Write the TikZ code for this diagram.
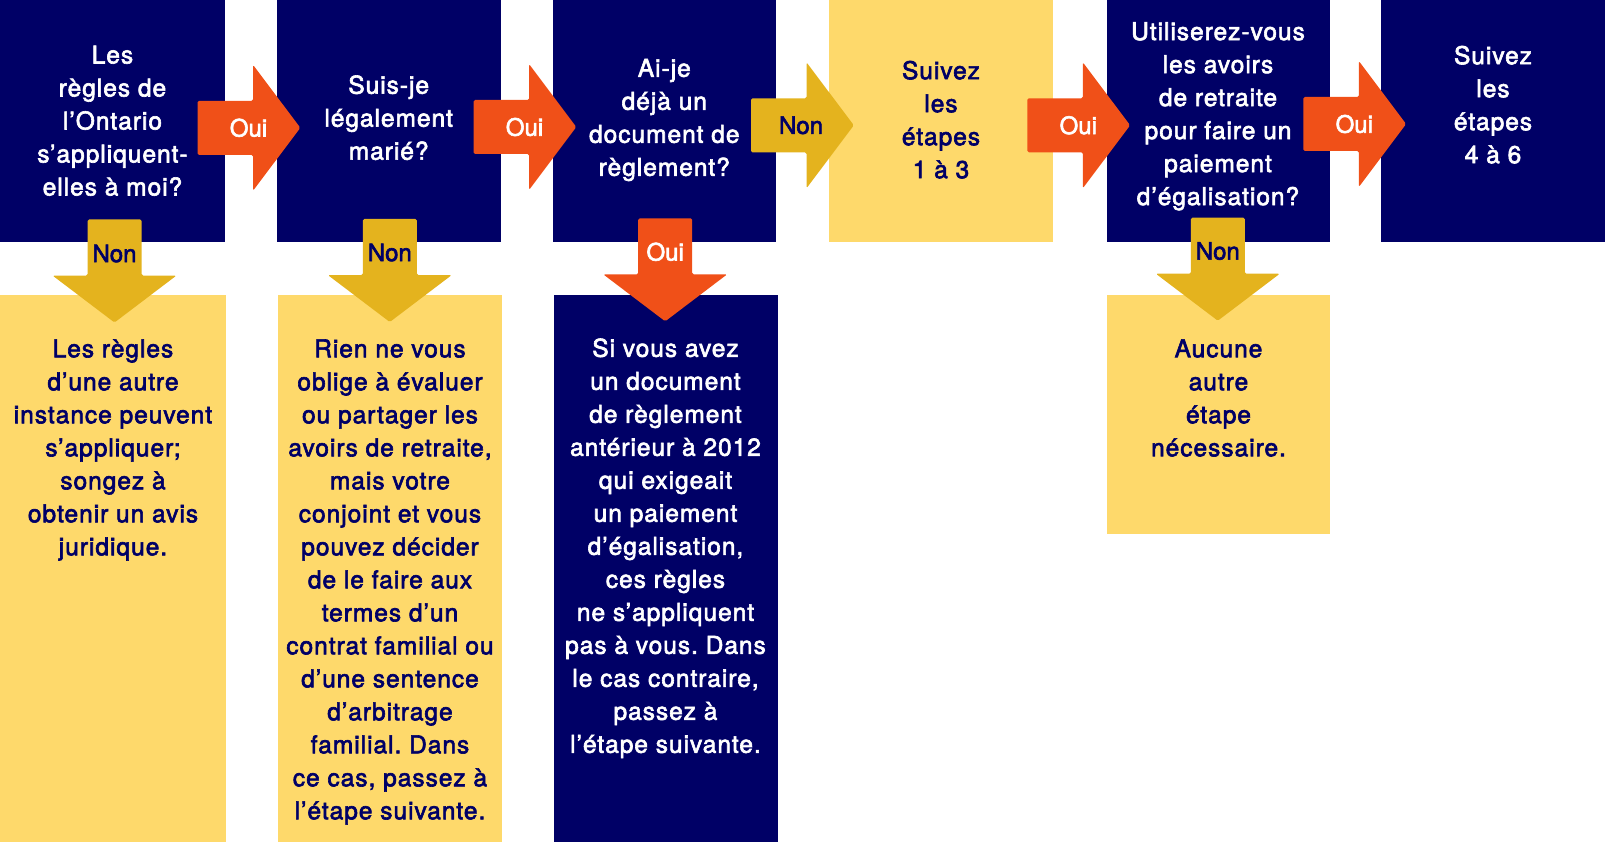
\documentclass[tikz,border=0pt]{standalone}
\usepackage{fontspec}
\setmainfont{TeX Gyre Heros}[LetterSpace=4,FakeBold=2.5]
\newfontfamily\lblfont{TeX Gyre Heros}[FakeBold=2.5]
\frenchspacing
\definecolor{navy}{HTML}{000066}
\definecolor{lightyel}{HTML}{FED96B}
\definecolor{gold}{HTML}{E4B31E}
\definecolor{orng}{HTML}{F05018}
\tikzset{
  box/.style={rectangle, inner sep=0pt, outer sep=0pt, anchor=north west, draw=none},
  txt/.style={align=center, inner sep=0pt, font=\fontsize{24.5}{33}\selectfont},
  lbl/.style={inner sep=0pt, font=\lblfont\fontsize{24}{28}\selectfont},
  harrow/.pic={\path[pic actions, rounded corners=1.5pt] (0,-27) -- (55.5,-27) -- (55.5,-63) -- (102.8,0) -- (55.5,63) -- (55.5,27) -- (0,27) -- cycle;},
  darrow/.pic={\path[pic actions, rounded corners=1.5pt] (-27,0) -- (27,0) -- (27,56) -- (62,56) -- (0,103) -- (-62,56) -- (-27,56) -- cycle;}
}
\begin{document}
\begin{tikzpicture}[x=1pt,y=-1pt]
\useasboundingbox (0,0) rectangle (1605,842);
% top row boxes
\node[box, fill=navy, minimum width=225pt, minimum height=242.5pt] (q1) at (0,0) {};
\node[box, fill=navy, minimum width=223.5pt, minimum height=242.5pt] (q2) at (277,0) {};
\node[box, fill=navy, minimum width=223.5pt, minimum height=242.5pt] (q3) at (552.5,0) {};
\node[box, fill=lightyel, minimum width=223.2pt, minimum height=242.5pt] (q4) at (829.3,0) {};
\node[box, fill=navy, minimum width=222.8pt, minimum height=242.5pt] (q5) at (1106.7,0) {};
\node[box, fill=navy, minimum width=224pt, minimum height=242.5pt] (q6) at (1381,0) {};
% bottom row boxes
\node[box, fill=lightyel, minimum width=225.5pt, minimum height=547pt] (b1) at (0,295) {};
\node[box, fill=lightyel, minimum width=224pt, minimum height=547.5pt] (b2) at (278,294.5) {};
\node[box, fill=navy, minimum width=223.5pt, minimum height=547.5pt] (b3) at (554,294.5) {};
\node[box, fill=lightyel, minimum width=223pt, minimum height=239.3pt] (b5) at (1107,294.7) {};
% top texts
\node[txt, text=white] (t1) at (112.5,120.7) {Les\\règles de\\l’Ontario\\s’appliquent-\\elles à moi?};
\node[txt, text=white] (t2) at (388.7,117.7) {Suis-je\\légalement\\marié?};
\node[txt, text=white] (t3) at (664.3,120) {Ai-je\\déjà un\\document de\\règlement?};
\node[txt, text=navy] (t4) at (941,119.7) {Suivez\\les\\étapes\\1 à 3};
\node[txt, text=white] (t5) at (1218,116.3) {Utiliserez-vous\\les avoirs\\de retraite\\pour faire un\\paiement\\d’égalisation?};
\node[txt, text=white] (t6) at (1493,104.7) {Suivez\\les\\étapes\\4 à 6};
% bottom texts
\node[txt, text=navy] (u1) at (113,450) {Les règles\\d’une autre\\instance peuvent\\s’appliquer;\\songez à\\obtenir un avis\\juridique.};
\node[txt, text=navy] (u2) at (390,582) {Rien ne vous\\oblige à évaluer\\ou partager les\\avoirs de retraite,\\mais votre\\conjoint et vous\\pouvez décider\\de le faire aux\\termes d’un\\contrat familial ou\\d’une sentence\\d’arbitrage\\familial. Dans\\ce cas, passez à\\l’étape suivante.};
\node[txt, text=white] (u3) at (665.5,548.3) {Si vous avez\\un document\\de règlement\\antérieur à 2012\\qui exigeait\\un paiement\\d’égalisation,\\ces règles\\ne s’appliquent\\pas à vous. Dans\\le cas contraire,\\passez à\\l’étape suivante.};
\node[txt, text=navy] (u5) at (1218.5,398) {Aucune\\autre\\étape\\nécessaire.};
% horizontal arrows
\pic[fill=orng] at (197.5,127.8) {harrow};
\node[lbl, text=white] (a1) at (248.5,127.8) {Oui};
\pic[fill=orng] at (473.5,127) {harrow};
\node[lbl, text=white] (a2) at (524.5,127) {Oui};
\pic[fill=gold] at (751,125.3) {harrow};
\node[lbl, text=navy] (a3) at (801,125.3) {Non};
\pic[fill=orng] at (1027.3,125.3) {harrow};
\node[lbl, text=white] (a4) at (1078.3,125.3) {Oui};
\pic[fill=orng] at (1303.3,124) {harrow};
\node[lbl, text=white] (a5) at (1354.3,124) {Oui};
% down arrows
\pic[fill=gold] at (114.5,219.5) {darrow};
\node[lbl, text=navy] (n1) at (114.5,253.5) {Non};
\pic[fill=gold] at (389.8,219) {darrow};
\node[lbl, text=navy] (n2) at (389.8,252.5) {Non};
\pic[fill=orng] at (665.2,218.3) {darrow};
\node[lbl, text=white] (n3) at (665.2,251.8) {Oui};
\pic[fill=gold] at (1217.8,217.7) {darrow};
\node[lbl, text=navy] (n5) at (1217.8,251) {Non};
\end{tikzpicture}
\end{document}
